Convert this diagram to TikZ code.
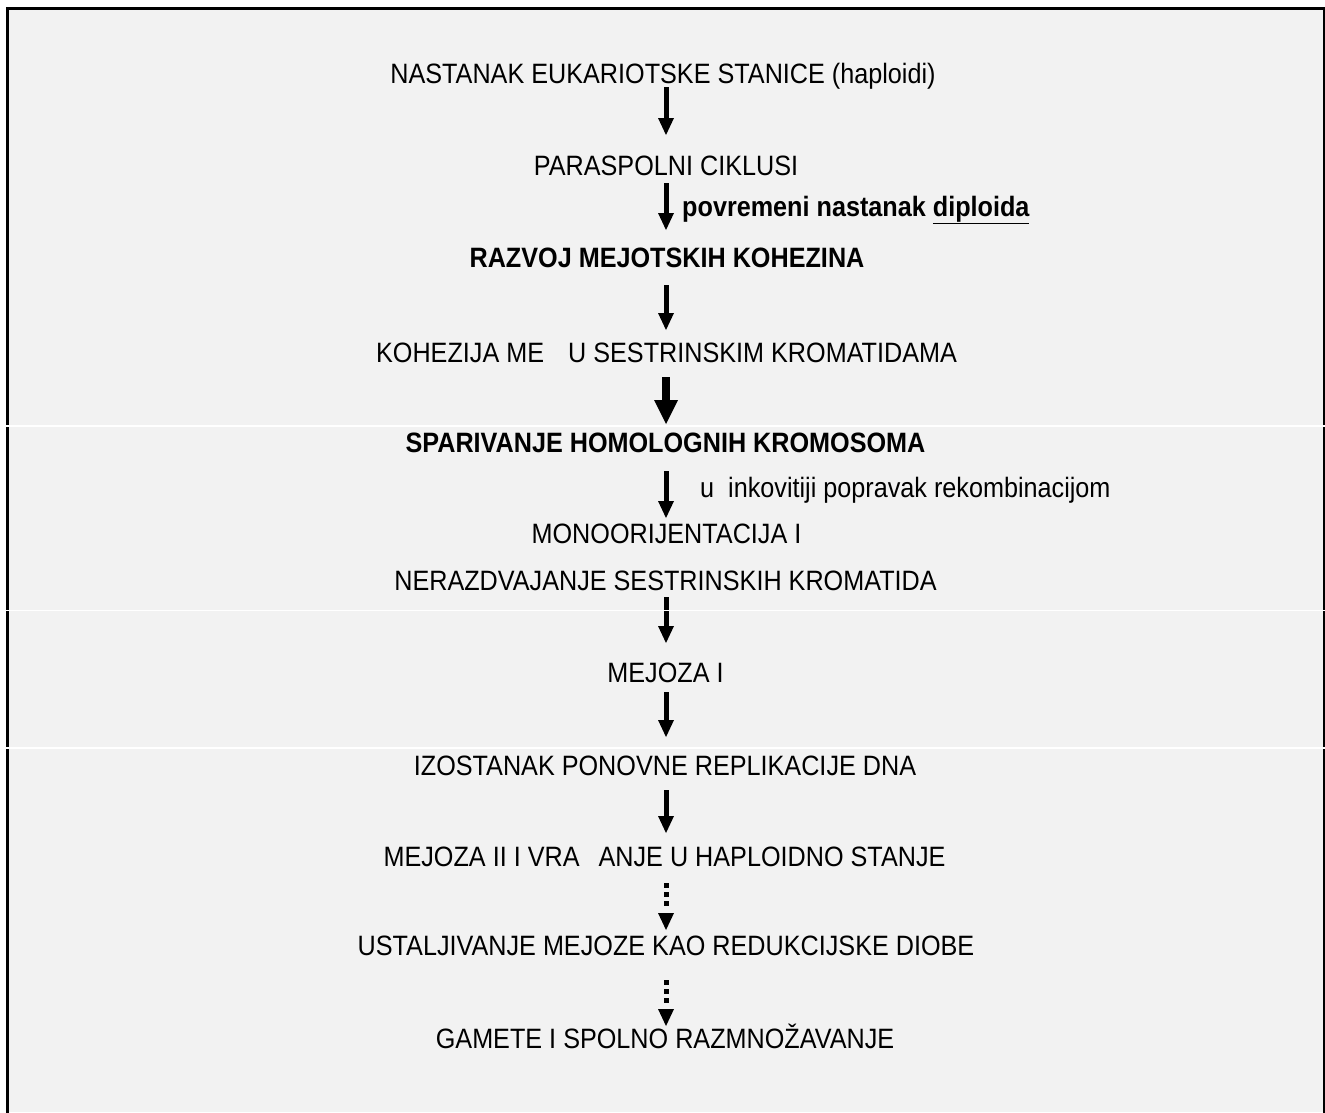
\documentclass[tikz,border=0pt]{standalone}
\usepackage{fontspec}
\setmainfont[FakeStretch=0.9]{Liberation Sans}
\usetikzlibrary{arrows.meta,calc}
\begin{document}
\begin{tikzpicture}[x=1pt,y=-1pt,
  lbl/.style={anchor=base,inner sep=0pt,font=\fontsize{28}{32}\selectfont},
  side/.style={anchor=base west,inner sep=0pt,font=\fontsize{28}{32}\selectfont},
  thinarr/.style={line width=5pt,-{Triangle[width=16pt,length=17pt,line width=0pt]}},
  thickarr/.style={line width=8pt,-{Triangle[width=24pt,length=24pt,line width=0pt]}},
  dotarr/.style={line width=5pt,dash pattern=on 5pt off 4pt on 5pt off 4pt on 5pt off 7pt,-{Triangle[width=16pt,length=17pt,line width=0pt]}},
  artifact/.style={draw=white,line width=1.5pt}]
\useasboundingbox (0,0) rectangle (1325,1112);
\fill[white] (0,0) rectangle (1325,1112);
\fill[black!5] (7.5,8.5) rectangle (1324,1112);
\draw[line width=3pt] (7.5,1113) -- (7.5,8.5) -- (1324,8.5) -- (1324,1113);
\coordinate (ax) at (666,0);

\node[lbl] (n1) at (663,83) {NASTANAK EUKARIOTSKE STANICE (haploidi)};
\node[lbl] (n2) at (666,175) {PARASPOLNI CIKLUSI};
\node[lbl] (n3) at (667,267) {\bfseries RAZVOJ MEJOTSKIH KOHEZINA};
\node[lbl] (n4) at (666.5,362) {KOHEZIJA ME\hspace{24pt}U SESTRINSKIM KROMATIDAMA};
\node[lbl] (n5) at (665.5,452) {\bfseries SPARIVANJE HOMOLOGNIH KROMOSOMA};
\node[lbl] (n6) at (666.5,543) {MONOORIJENTACIJA I};
\node[lbl] (n7) at (665.5,590) {NERAZDVAJANJE SESTRINSKIH KROMATIDA};
\node[lbl] (n8) at (665.5,682) {MEJOZA I};
\node[lbl] (n9) at (665,775) {IZOSTANAK PONOVNE REPLIKACIJE DNA};
\node[lbl] (n10) at (664.5,866) {MEJOZA II I VRA\hspace{19pt}ANJE U HAPLOIDNO STANJE};
\node[lbl] (n11) at (666,955) {USTALJIVANJE MEJOZE KAO REDUKCIJSKE DIOBE};
\node[lbl] (n12) at (665,1048) {GAMETE I SPOLNO RAZMNOŽAVANJE};

\node[side] (l2) at (682,216) {\bfseries povremeni nastanak \underline{diploida}};
\node[side] (l5) at (700,497) {u\hspace{14pt}inkovitiji popravak rekombinacijom};

\draw[thinarr] ($(n1.base -| ax)+(0,4)$) -- ($(n2.base -| ax)+(0,-40)$);
\draw[thinarr] ($(n2.base -| ax)+(0,8)$) -- ($(n3.base -| ax)+(0,-37)$);
\draw[thinarr] ($(n3.base -| ax)+(0,18)$) -- ($(n4.base -| ax)+(0,-32)$);
\draw[thickarr] ($(n4.base -| ax)+(0,15)$) -- ($(n5.base -| ax)+(0,-28)$);
\draw[thinarr] ($(n5.base -| ax)+(0,19)$) -- ($(n6.base -| ax)+(0,-25)$);
\draw[thinarr] ($(n7.base -| ax)+(0,7)$) -- ($(n8.base -| ax)+(0,-39)$);
\draw[thinarr] ($(n8.base -| ax)+(0,10)$) -- ($(n9.base -| ax)+(0,-38)$);
\draw[thinarr] ($(n9.base -| ax)+(0,15)$) -- ($(n10.base -| ax)+(0,-33)$);
\draw[dotarr] ($(n10.base -| ax)+(0,17)$) -- ($(n11.base -| ax)+(0,-25)$);
\draw[dotarr] ($(n11.base -| ax)+(0,25)$) -- ($(n12.base -| ax)+(0,-22)$);

\draw[artifact] (0,426) -- (1325,426);
\draw[artifact] (0,610.5) -- (1325,610.5);
\draw[artifact] (0,748) -- (1325,748);
\end{tikzpicture}
\end{document}
